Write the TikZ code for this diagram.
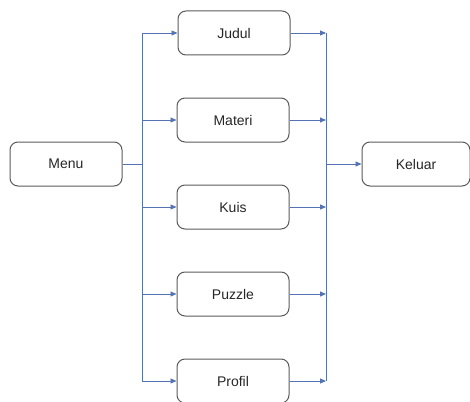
\documentclass[tikz,border=0pt]{standalone}
\usepackage{fontspec}
\setmainfont{Liberation Sans}
\usetikzlibrary{arrows.meta}
\definecolor{conn}{RGB}{85,115,180}
\definecolor{boxline}{RGB}{90,90,90}
\tikzset{
  box/.style={draw=boxline, line width=1pt, rounded corners=8pt, minimum width=112pt, minimum height=44pt, inner sep=0pt, font=\fontsize{14}{16}\selectfont, text=black!85},
  conline/.style={draw=conn, line width=0.9pt},
  arr/.style={conline, -{Triangle[length=6pt,width=5pt]}}
}
\begin{document}
\begin{tikzpicture}[x=1pt,y=-1pt]
\useasboundingbox (0,0) rectangle (470,401);
\node[box] (menu) at (66,164) {Menu};
\node[box, minimum width=108pt] (keluar) at (416,164) {Keluar};
\node[box] (judul) at (234,33) {Judul};
\node[box] (materi) at (233,120) {Materi};
\node[box] (kuis) at (233,207) {Kuis};
\node[box] (puzzle) at (233,294) {Puzzle};
\node[box] (profil) at (233,381) {Profil};
\coordinate (lt) at (142,33);
\coordinate (lm) at (142,164);
\coordinate (lb) at (142,381);
\coordinate (rt) at (326,33);
\coordinate (rm) at (326,164);
\coordinate (rb) at (326,381);
\draw[conline] (menu.east) -- (lm);
\draw[conline] (lt) -- (lb);
\draw[conline] (rt) -- (rb);
\foreach \n in {judul,materi,kuis,puzzle,profil}{
  \draw[arr] (lt |- \n.west) -- (\n.west);
  \draw[arr] (\n.east) -- (rt |- \n.east);
}
\draw[arr] (rm) -- (keluar.west);
\end{tikzpicture}
\end{document}
